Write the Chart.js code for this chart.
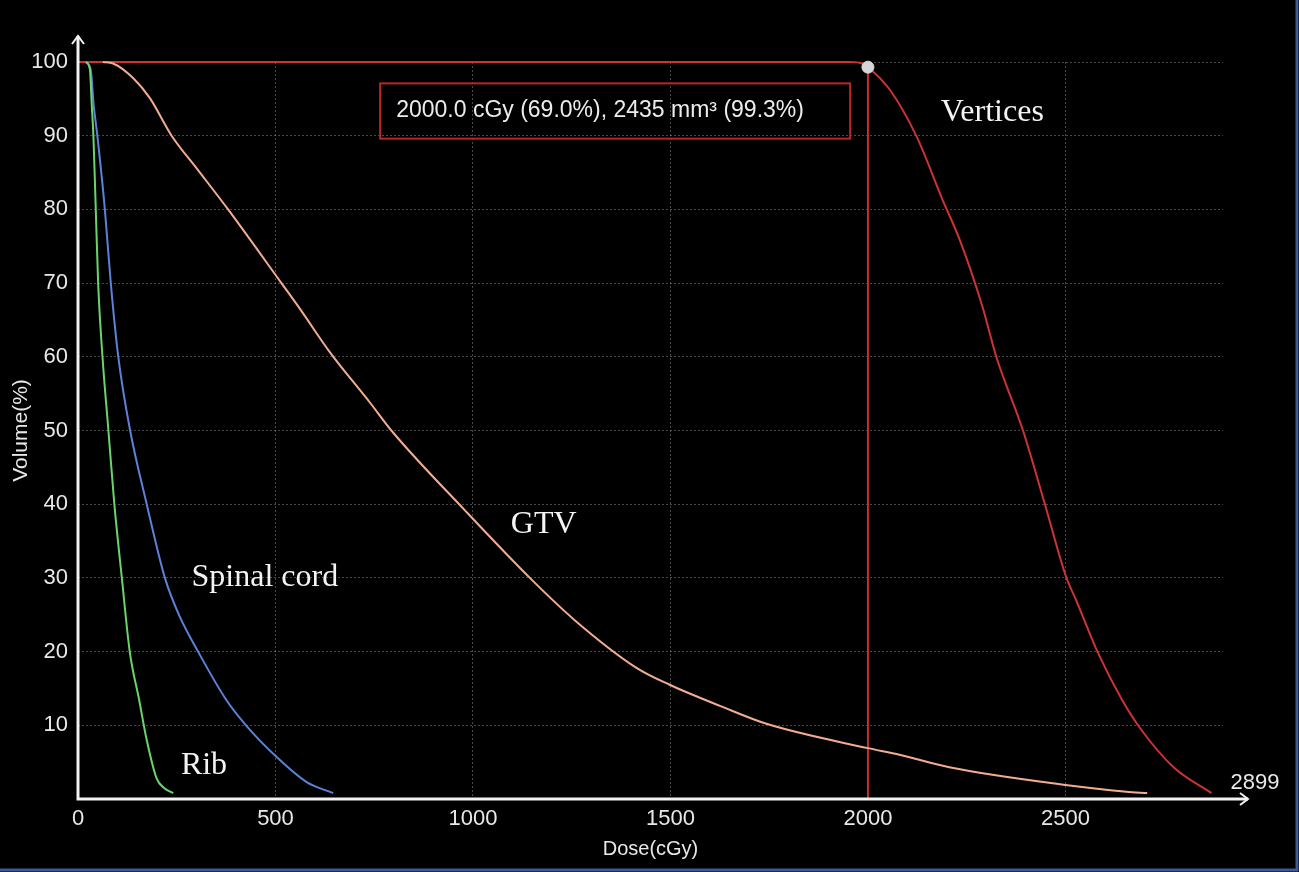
<!DOCTYPE html>
<html>
<head>
<meta charset="utf-8">
<title>DVH</title>
<script src="https://cdn.jsdelivr.net/npm/chart.js@4.4.1/dist/chart.umd.min.js"></script>
<style>
  html, body { margin: 0; padding: 0; background: #000; }
  #wrap { position: relative; width: 1299px; height: 872px; background: #000; }
</style>
</head>
<body>
<div id="wrap"><canvas id="dvh"></canvas></div>
<script>
// axis ticks
const doseTicks = [0, 500, 1000, 1500, 2000, 2500];
const volumeTicks = [10, 20, 30, 40, 50, 60, 70, 80, 90, 100];
const maxDose = 2899;

// cumulative DVH curves (dose cGy / volume %)
const ribDose = [20, 30, 35, 39, 45, 51, 62, 77, 92, 111, 131, 155, 174, 199, 218, 241];
const ribVolume = [100, 99, 94, 90, 80, 70, 60, 50, 40, 30, 20, 13.4, 8.0, 2.8, 1.5, 0.8];

const cordDose = [20, 32, 40, 49, 68, 83, 102, 132, 174, 220, 258, 304, 376, 427, 503, 579, 646];
const cordVolume = [100, 99, 94, 90, 80, 70, 60, 50, 40, 30, 24.7, 20, 13.4, 9.9, 5.7, 2.3, 0.8];

const gtvDose = [63, 89, 140, 182, 237, 300, 380, 515, 562, 638, 739, 795, 979, 1144, 1259, 1414, 1498, 1627, 1743, 2000, 2080, 2206, 2500, 2654, 2707];
const gtvVolume = [100, 99.8, 97.8, 95.1, 90.0, 85.6, 80, 70, 66.5, 60.6, 53.8, 49.9, 39.2, 30, 24.2, 17.8, 15.5, 12.6, 10.2, 6.9, 6.0, 4.3, 1.9, 1.0, 0.8];

const vertDose = [0, 1955, 1985, 2000, 2056, 2124, 2189, 2233, 2290, 2325, 2392, 2447, 2502, 2527, 2581, 2644, 2692, 2776, 2870];
const vertVolume = [100, 100, 99.8, 99.3, 96.2, 89.8, 81.3, 75.8, 66.8, 60.0, 50.1, 40.2, 30.1, 27, 20, 13.4, 9.4, 4.2, 0.8];

// cursor readout
const cursorDose = 2000;
const cursorVolume = 99.3;
const cursorText = "2000.0 cGy (69.0%), 2435 mm\u00b3 (99.3%)";

const curveNames = ["Vertices", "GTV", "Spinal cord", "Rib"];

// where the names sit (in dose / volume units)
const nameSpots = [[2315, 93.1], [1179, 37.2], [473, 30.1], [319, 4.5]];
const boxSpan = { dose: [765, 1955], volume: [97.1, 89.6] };

const pts = (xs, ys) => xs.map((x, i) => ({ x: x, y: ys[i] }));

const decor = {
  id: "decor",
  afterDraw(chart) {
    const ctx = chart.ctx;
    const a = chart.chartArea;
    const xs = chart.scales.x, ys = chart.scales.y;
    ctx.save();

    // axes with arrow heads
    ctx.strokeStyle = "#f2f2f2";
    ctx.lineWidth = 3;
    ctx.beginPath();
    ctx.moveTo(a.left, a.bottom + 1.5);
    ctx.lineTo(a.left, a.top - 26);
    ctx.moveTo(a.left - 1.5, a.bottom);
    ctx.lineTo(a.right + 25, a.bottom);
    ctx.stroke();
    ctx.lineWidth = 2;
    ctx.beginPath();
    ctx.moveTo(a.left - 6, a.top - 18);
    ctx.lineTo(a.left, a.top - 26);
    ctx.lineTo(a.left + 6, a.top - 18);
    ctx.moveTo(a.right + 17, a.bottom - 6);
    ctx.lineTo(a.right + 25, a.bottom);
    ctx.lineTo(a.right + 17, a.bottom + 6);
    ctx.stroke();

    ctx.fillStyle = "#e8e8e8";
    ctx.font = "22px 'Liberation Sans', Arial, sans-serif";
    ctx.textAlign = "center";
    ctx.textBaseline = "middle";
    ctx.fillText(String(maxDose), a.right + 32, a.bottom - 16);

    // readout box
    const bx = xs.getPixelForValue(boxSpan.dose[0]);
    const bx2 = xs.getPixelForValue(boxSpan.dose[1]);
    const by = ys.getPixelForValue(boxSpan.volume[0]);
    const by2 = ys.getPixelForValue(boxSpan.volume[1]);
    ctx.strokeStyle = "#b8282a";
    ctx.lineWidth = 2;
    ctx.strokeRect(bx, by, bx2 - bx, by2 - by);
    ctx.font = "23px 'Liberation Sans', Arial, sans-serif";
    ctx.textAlign = "left";
    ctx.fillStyle = "#ececec";
    ctx.fillText(cursorText, bx + 16, (by + by2) / 2);

    // curve names
    ctx.font = "32px 'Liberation Serif', 'Times New Roman', serif";
    ctx.textAlign = "center";
    ctx.fillStyle = "#f4f4f4";
    curveNames.forEach((n, i) => {
      ctx.fillText(n, xs.getPixelForValue(nameSpots[i][0]), ys.getPixelForValue(nameSpots[i][1]));
    });

    // screenshot frame at right and bottom
    ctx.strokeStyle = "#3d5b95";
    ctx.lineWidth = 3;
    ctx.beginPath();
    ctx.moveTo(chart.width - 2, 0);
    ctx.lineTo(chart.width - 2, chart.height - 2);
    ctx.lineTo(0, chart.height - 2);
    ctx.stroke();
    ctx.restore();
  }
};

const tickFont = { family: "'Liberation Sans', Arial, sans-serif", size: 22 };
const titleFont = { family: "'Liberation Sans', Arial, sans-serif", size: 20 };
const gridColor = "rgba(200,200,200,0.36)";

new Chart("dvh", {
  type: "line",
  data: {
    datasets: [
      { data: [{ x: cursorDose, y: cursorVolume }], showLine: false, pointRadius: 6,
        pointBackgroundColor: "#d6d6d6", pointBorderColor: "#d6d6d6", order: 0 },
      { data: pts(ribDose, ribVolume), borderColor: "#6ad46a", order: 1 },
      { data: pts(cordDose, cordVolume), borderColor: "#5b82d8", order: 2 },
      { data: pts(gtvDose, gtvVolume), borderColor: "#f2ad90", order: 3 },
      { data: pts(vertDose, vertVolume), borderColor: "#cc3333", order: 4 },
      { data: [{ x: cursorDose, y: 0 }, { x: cursorDose, y: cursorVolume }],
        borderColor: "#c42f2f", cubicInterpolationMode: "default", tension: 0, order: 5 }
    ]
  },
  options: {
    responsive: true,
    maintainAspectRatio: false,
    animation: false,
    layout: { padding: { top: 62, right: 76, left: 0, bottom: 0 } },
    plugins: { legend: { display: false }, tooltip: { enabled: false } },
    elements: {
      point: { radius: 0 },
      line: { borderWidth: 2, cubicInterpolationMode: "monotone", fill: false }
    },
    datasets: { line: { clip: 8 } },
    scales: {
      x: {
        type: "linear",
        min: 0,
        max: maxDose,
        afterBuildTicks: (s) => { s.ticks = doseTicks.map((v) => ({ value: v })); },
        afterFit: (s) => { s.height = 73; },
        grid: { color: gridColor, lineWidth: 1, drawTicks: false },
        border: { display: false, dash: [2, 2] },
        ticks: { color: "#e8e8e8", font: tickFont, padding: 7, maxRotation: 0,
          callback: (v) => String(v) },
        title: { display: true, text: "Dose(cGy)", color: "#e8e8e8", font: titleFont, padding: { top: 0, bottom: 11 } }
      },
      y: {
        min: 0,
        max: 100,
        afterBuildTicks: (s) => { s.ticks = volumeTicks.map((v) => ({ value: v })); },
        afterFit: (s) => { s.width = 78; },
        grid: { color: gridColor, lineWidth: 1, drawTicks: false },
        border: { display: false, dash: [2, 2] },
        ticks: { color: "#e8e8e8", font: tickFont, padding: 10, callback: (v) => String(v) },
        title: { display: true, text: "Volume(%)", color: "#e8e8e8", font: { family: titleFont.family, size: 21 }, padding: { top: 9, bottom: 0 } }
      }
    }
  },
  plugins: [decor]
});
</script>
</body>
</html>
